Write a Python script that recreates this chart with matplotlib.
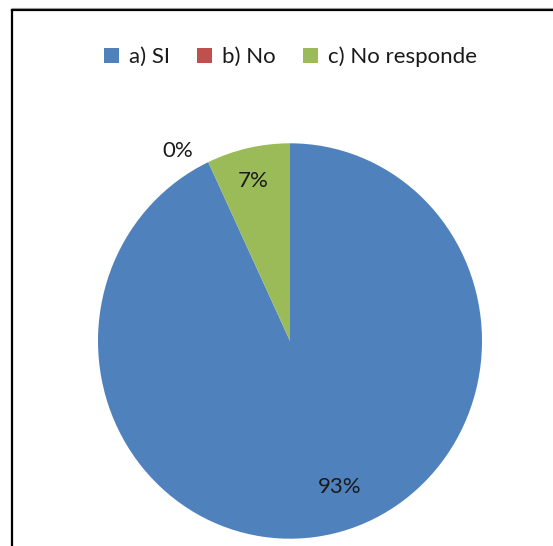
import matplotlib
matplotlib.use("Agg")
import matplotlib.pyplot as plt
from matplotlib.patches import Patch
from matplotlib.lines import Line2D

# data
categories = ["a) SI", "b) No", "c) No responde"]
values = [93, 0, 7]
pct_labels = ["93%", "0%", "7%"]
colors = ["#4F81BD", "#C0504D", "#9BBB59"]

W, H = 553, 546
fig = plt.figure(figsize=(W / 100, H / 100), dpi=100)
plt.rcParams['font.family'] = ['Lato', 'DejaVu Sans']

# axes in pixel units; y squashed a bit since the pie is slightly taller than wide
rx, ry = 192.0, 197.7
sy = rx / ry
ax = fig.add_axes([0, 0, 1, 1])

cx, cy = 290, 341
wedges, _ = ax.pie(values, colors=colors, startangle=90, counterclock=False,
                   radius=rx, center=(cx, (H - cy) * sy), frame=True,
                   wedgeprops=dict(linewidth=0))
ax.set_aspect('auto')
ax.set_xlim(0, W)
ax.set_ylim(0, H * sy)
ax.axis('off')

# percent labels (pixel positions)
label_pos = [(340, 487), (178, 151), (253, 181)]
for txt, (px, py) in zip(pct_labels, label_pos):
    fig.text(px / W, 1 - py / H, txt, ha='center', va='center',
             fontsize=16, color='#1a1a1a')

# legend
handles = [Patch(facecolor=c, edgecolor='none') for c in colors]
fig.legend(handles, categories, loc='center', bbox_to_anchor=(290.5 / W, 1 - 57 / H),
           ncol=3, frameon=False, fontsize=16, handlelength=0.65, handleheight=0.65,
           handletextpad=0.45, columnspacing=1.25, labelcolor='#1a1a1a')

# chart border (only left and top visible)
fig.add_artist(Line2D([11.5 / W, 11.5 / W], [0, 1 - 10 / H], color='black', lw=1.6))
fig.add_artist(Line2D([11.5 / W, 1], [1 - 10 / H, 1 - 10 / H], color='black', lw=1.6))
fig.add_artist(Line2D([11.5 / W, 1], [1 - 8 / H, 1 - 8 / H], color='#999999', lw=0.8))

fig.savefig("out.png", dpi=100, facecolor='white')
